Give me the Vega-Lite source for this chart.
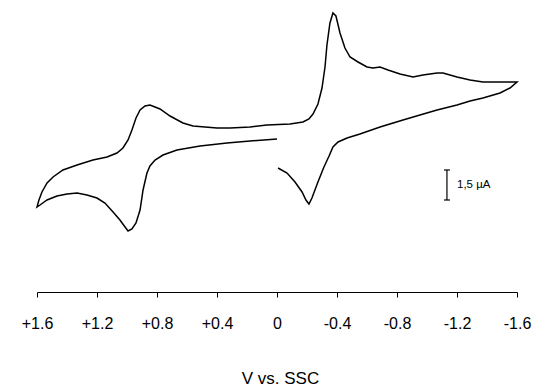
{
  "$schema": "https://vega.github.io/schema/vega-lite/v6.json",
  "width": 480,
  "height": 292,
  "autosize": {"type": "none"},
  "padding": {"left": 37, "top": 0, "right": 16, "bottom": 96},
  "background": "white",
  "config": {"view": {"stroke": null}},
  "datasets": {
    "curve": [
      {"i": 1, "V": 0.0, "I": 0.05},
      {"i": 2, "V": 0.18, "I": -0.05},
      {"i": 3, "V": 0.333, "I": -0.15},
      {"i": 4, "V": 0.513, "I": -0.3},
      {"i": 5, "V": 0.667, "I": -0.5},
      {"i": 6, "V": 0.76, "I": -0.75},
      {"i": 7, "V": 0.813, "I": -1.0},
      {"i": 8, "V": 0.847, "I": -1.3},
      {"i": 9, "V": 0.867, "I": -1.65},
      {"i": 10, "V": 0.893, "I": -2.5},
      {"i": 11, "V": 0.913, "I": -3.5},
      {"i": 12, "V": 0.94, "I": -4.15},
      {"i": 13, "V": 0.967, "I": -4.45},
      {"i": 14, "V": 0.993, "I": -4.55},
      {"i": 15, "V": 1.013, "I": -4.35},
      {"i": 16, "V": 1.047, "I": -4.0},
      {"i": 17, "V": 1.093, "I": -3.6},
      {"i": 18, "V": 1.147, "I": -3.15},
      {"i": 19, "V": 1.2, "I": -2.9},
      {"i": 20, "V": 1.267, "I": -2.75},
      {"i": 21, "V": 1.333, "I": -2.65},
      {"i": 22, "V": 1.4, "I": -2.7},
      {"i": 23, "V": 1.467, "I": -2.8},
      {"i": 24, "V": 1.533, "I": -3.0},
      {"i": 25, "V": 1.58, "I": -3.25},
      {"i": 26, "V": 1.6, "I": -3.35},
      {"i": 27, "V": 1.587, "I": -3.0},
      {"i": 28, "V": 1.567, "I": -2.6},
      {"i": 29, "V": 1.533, "I": -2.15},
      {"i": 30, "V": 1.493, "I": -1.85},
      {"i": 31, "V": 1.427, "I": -1.5},
      {"i": 32, "V": 1.333, "I": -1.25},
      {"i": 33, "V": 1.227, "I": -1.0},
      {"i": 34, "V": 1.133, "I": -0.85},
      {"i": 35, "V": 1.067, "I": -0.65},
      {"i": 36, "V": 1.027, "I": -0.4},
      {"i": 37, "V": 0.993, "I": 0.0},
      {"i": 38, "V": 0.967, "I": 0.5},
      {"i": 39, "V": 0.94, "I": 1.1},
      {"i": 40, "V": 0.913, "I": 1.5},
      {"i": 41, "V": 0.88, "I": 1.7},
      {"i": 42, "V": 0.847, "I": 1.75},
      {"i": 43, "V": 0.813, "I": 1.65},
      {"i": 44, "V": 0.78, "I": 1.55},
      {"i": 45, "V": 0.713, "I": 1.2},
      {"i": 46, "V": 0.627, "I": 0.85},
      {"i": 47, "V": 0.56, "I": 0.7},
      {"i": 48, "V": 0.4, "I": 0.6},
      {"i": 49, "V": 0.313, "I": 0.6},
      {"i": 50, "V": 0.18, "I": 0.65},
      {"i": 51, "V": 0.067, "I": 0.75},
      {"i": 52, "V": -0.087, "I": 0.8},
      {"i": 53, "V": -0.173, "I": 0.9},
      {"i": 54, "V": -0.213, "I": 1.05},
      {"i": 55, "V": -0.24, "I": 1.3},
      {"i": 56, "V": -0.273, "I": 1.8},
      {"i": 57, "V": -0.3, "I": 2.6},
      {"i": 58, "V": -0.32, "I": 3.65},
      {"i": 59, "V": -0.333, "I": 4.75},
      {"i": 60, "V": -0.353, "I": 5.85},
      {"i": 61, "V": -0.373, "I": 6.35},
      {"i": 62, "V": -0.393, "I": 6.2},
      {"i": 63, "V": -0.42, "I": 5.35},
      {"i": 64, "V": -0.453, "I": 4.6},
      {"i": 65, "V": -0.487, "I": 4.15},
      {"i": 66, "V": -0.54, "I": 3.9},
      {"i": 67, "V": -0.6, "I": 3.65},
      {"i": 68, "V": -0.64, "I": 3.6},
      {"i": 69, "V": -0.687, "I": 3.65},
      {"i": 70, "V": -0.74, "I": 3.5},
      {"i": 71, "V": -0.82, "I": 3.3},
      {"i": 72, "V": -0.907, "I": 3.15},
      {"i": 73, "V": -0.973, "I": 3.25},
      {"i": 74, "V": -1.067, "I": 3.35},
      {"i": 75, "V": -1.107, "I": 3.35},
      {"i": 76, "V": -1.2, "I": 3.15},
      {"i": 77, "V": -1.287, "I": 3.0},
      {"i": 78, "V": -1.373, "I": 2.9},
      {"i": 79, "V": -1.487, "I": 2.9},
      {"i": 80, "V": -1.6, "I": 2.9},
      {"i": 81, "V": -1.553, "I": 2.6},
      {"i": 82, "V": -1.487, "I": 2.35},
      {"i": 83, "V": -1.373, "I": 2.1},
      {"i": 84, "V": -1.287, "I": 1.95},
      {"i": 85, "V": -1.2, "I": 1.75},
      {"i": 86, "V": -1.067, "I": 1.5},
      {"i": 87, "V": -0.953, "I": 1.25},
      {"i": 88, "V": -0.84, "I": 1.0},
      {"i": 89, "V": -0.687, "I": 0.65},
      {"i": 90, "V": -0.553, "I": 0.3},
      {"i": 91, "V": -0.467, "I": 0.1},
      {"i": 92, "V": -0.407, "I": -0.1},
      {"i": 93, "V": -0.373, "I": -0.35},
      {"i": 94, "V": -0.347, "I": -0.8},
      {"i": 95, "V": -0.313, "I": -1.35},
      {"i": 96, "V": -0.273, "I": -2.1},
      {"i": 97, "V": -0.233, "I": -2.9},
      {"i": 98, "V": -0.213, "I": -3.2},
      {"i": 99, "V": -0.193, "I": -3.0},
      {"i": 100, "V": -0.167, "I": -2.6},
      {"i": 101, "V": -0.12, "I": -2.1},
      {"i": 102, "V": -0.067, "I": -1.65},
      {"i": 103, "V": -0.007, "I": -1.4}
    ],
    "bar": [{"V": -1.133, "Va": -1.153, "Vb": -1.113, "Itop": -1.5, "Ibot": -3.0}],
    "barlabel": [{"V": -1.2, "I": -2.25, "label": "1,5 µA"}]
  },
  "layer": [
    {
      "data": {"name": "curve"},
      "mark": {"type": "line", "color": "black", "strokeWidth": 1.5, "clip": false},
      "encoding": {
        "x": {
          "field": "V", "type": "quantitative",
          "scale": {"domain": [1.6, -1.6], "nice": false, "zero": false},
          "axis": {
            "title": "V vs. SSC",
            "values": [1.6, 1.4, 1.2, 1.0, 0.8, 0.6, 0.4, 0.2, 0, -0.2, -0.4, -0.6, -0.8, -1.0, -1.2, -1.4, -1.6],
            "labelExpr": "abs(round(datum.value*10)) % 4 != 0 ? '' : (datum.value > 0.01 ? '+' + format(datum.value, '.1f') : (abs(datum.value) < 0.01 ? '0' : '-' + format(abs(datum.value), '.1f')))",
            "grid": false,
            "domainColor": "black",
            "domainWidth": 1,
            "tickColor": "black",
            "tickWidth": 1,
            "tickSize": 5,
            "labelFont": "Liberation Sans",
            "labelFontSize": 16,
            "labelColor": "black",
            "labelBaseline": "alphabetic",
            "labelPadding": 31,
            "labelFlush": false,
            "labelOverlap": false,
            "labelBound": false,
            "titleFont": "Liberation Sans",
            "titleFontSize": 17,
            "titleFontWeight": "normal",
            "titleColor": "black",
            "titleBaseline": "alphabetic",
            "titleAlign": "center",
            "titleAnchor": null,
            "titleX": 243,
            "titleY": 91
          }
        },
        "y": {
          "field": "I", "type": "quantitative",
          "scale": {"domain": [-7.6, 7], "nice": false, "zero": false},
          "axis": null
        },
        "order": {"field": "i", "type": "quantitative"}
      }
    },
    {
      "data": {"name": "bar"},
      "mark": {"type": "rule", "color": "black", "strokeWidth": 1.2},
      "encoding": {
        "x": {"field": "V", "type": "quantitative"},
        "y": {"field": "Itop", "type": "quantitative"},
        "y2": {"field": "Ibot"}
      }
    },
    {
      "data": {"name": "bar"},
      "mark": {"type": "rule", "color": "black", "strokeWidth": 1.2},
      "encoding": {
        "x": {"field": "Va", "type": "quantitative"},
        "x2": {"field": "Vb"},
        "y": {"field": "Itop", "type": "quantitative"}
      }
    },
    {
      "data": {"name": "bar"},
      "mark": {"type": "rule", "color": "black", "strokeWidth": 1.2},
      "encoding": {
        "x": {"field": "Va", "type": "quantitative"},
        "x2": {"field": "Vb"},
        "y": {"field": "Ibot", "type": "quantitative"}
      }
    },
    {
      "data": {"name": "barlabel"},
      "mark": {"type": "text", "align": "left", "baseline": "middle", "font": "Liberation Sans", "fontSize": 11.5, "color": "black"},
      "encoding": {
        "x": {"field": "V", "type": "quantitative"},
        "y": {"field": "I", "type": "quantitative"},
        "text": {"field": "label"}
      }
    }
  ]
}
